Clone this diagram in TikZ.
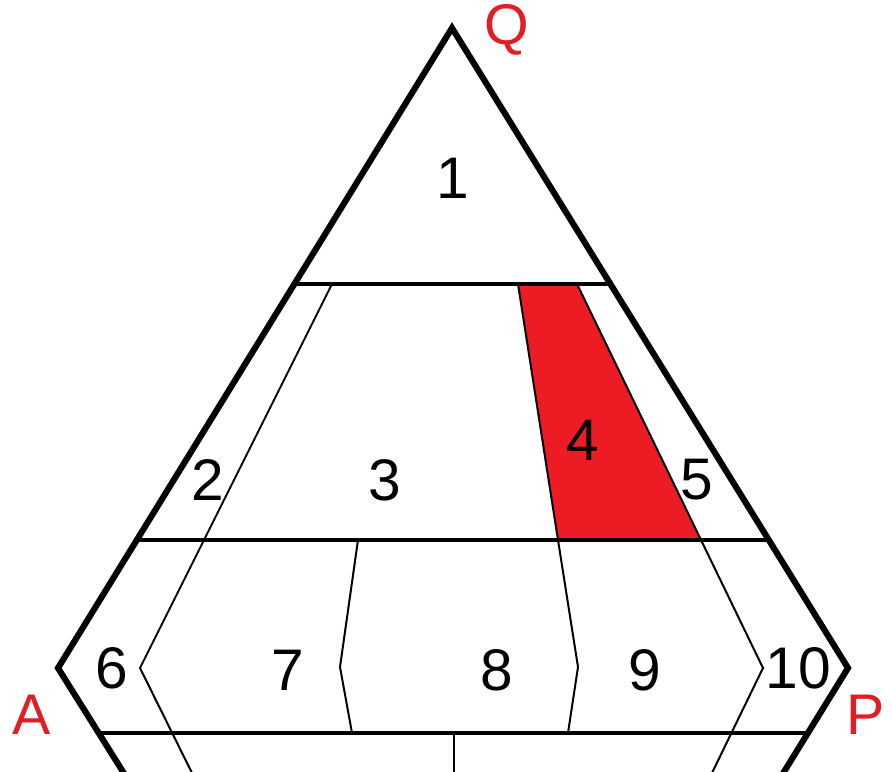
\documentclass[tikz,border=0pt]{standalone}
\usepackage{fontspec}
\setmainfont{Liberation Sans}
\definecolor{zred}{RGB}{237,28,36}
\definecolor{lblred}{RGB}{225,30,35}
\begin{document}
\begin{tikzpicture}[x=0.75pt,y=-0.75pt,
  outer/.style={line width=4.6pt,line join=miter},
  mid/.style={line width=2.6pt},
  thin/.style={line width=1.5pt,line join=miter},
  num/.style={font=\fontsize{44}{44}\selectfont,inner sep=0pt},
  vlabel/.style={font=\fontsize{43}{43}\selectfont,text=lblred,inner sep=0pt}]
\useasboundingbox (0,0) rectangle (892,771);
\clip (0,0) rectangle (892,771);
\fill[white] (0,0) rectangle (892,771);
% red region 4
\fill[zred] (518,284) -- (577,284) -- (700,540) -- (558,540) -- cycle;
% horizontals
\draw[mid] (294,284) -- (610,284);
\draw[mid] (136,540) -- (770,540);
\draw[mid] (99,733) -- (808,733);
% thin separators
\draw[thin] (332,284) -- (140,668) -- (193,775);
\draw[thin] (577,284) -- (763,668) -- (711,775);
\draw[thin] (518,284) -- (558,540) -- (578,667) -- (568,733);
\draw[thin] (358,540) -- (340,667) -- (352,733);
\draw[thin] (454,733) -- (454,775);
% outer outline
\draw[outer] (125,775) -- (58,668) -- (452,28) -- (848,668) -- (782,775);
% labels
\node[num] (n1) at (453,178) {1};
\node[num] (n2) at (208,480) {2};
\node[num] (n3) at (385,480) {3};
\node[num] (n4) at (583,440) {4};
\node[num] (n5) at (697,480) {5};
\node[num] (n6) at (112,668) {6};
\node[num] (n7) at (288,670) {7};
\node[num] (n8) at (497,670) {8};
\node[num] (n9) at (645,670) {9};
\node[num] (n10) at (798,668) {10};
\node[vlabel] (q) at (507,30) {Q};
\node[vlabel] (a) at (32,715) {A};
\node[vlabel] (p) at (866,715) {P};
\end{tikzpicture}
\end{document}
